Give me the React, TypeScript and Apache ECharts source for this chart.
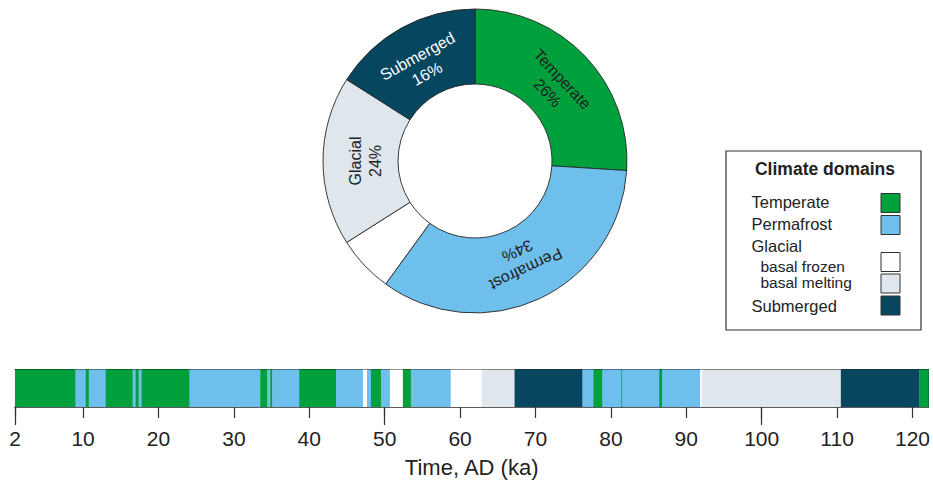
import React, { useEffect, useRef } from 'react';
import * as echarts from 'echarts';

const FONT = '"Liberation Sans", Arial, Helvetica, sans-serif';
const TEXT = '#222222';
const EDGE = '#262626';

// Climate domains: 0 Temperate, 1 Permafrost, 2 Glacial basal frozen, 3 Glacial basal melting, 4 Submerged
const DOMAIN_NAMES = ['Temperate', 'Permafrost', 'basal frozen', 'basal melting', 'Submerged'];
const DOMAIN_COLORS = ['#00a03c', '#6ebfeb', '#ffffff', '#dfe6ec', '#06465f'];

// Pie shares (%)
const PIE_VALUES = [26, 34, 6, 18, 16];
const PIE_LABEL_NAMES = ['Temperate', 'Permafrost', '', 'Glacial', 'Submerged'];
const PIE_LABEL_PCT = [26, 34, null, 24, 16];

// Timeline (ka): segment boundaries and the domain of each segment
const SEG_BOUNDS = [
  0.97, 8.99, 10.36, 10.75, 13.0, 16.57, 16.97, 17.36, 17.76, 24.11, 33.5, 34.43, 34.82,
  35.09, 38.66, 43.55, 47.12, 47.65, 48.18, 49.5, 50.69, 52.41, 53.47, 58.76, 62.86,
  67.23, 76.22, 77.68, 78.87, 81.38, 81.51, 86.41, 86.8, 91.83, 92.09, 110.5, 120.88, 122.1,
];
const SEG_DOMAIN = [
  0, 1, 0, 1, 0, 1, 0, 1, 0, 1, 0, 1,
  0, 1, 0, 1, 2, 1, 0, 1, 2, 0, 1, 2,
  3, 4, 1, 0, 1, 0, 1, 0, 1, 2, 3, 4, 0,
];

const AXIS_MIN = 0.97;
const AXIS_MAX = 122.1;
const TICK_VALUES = [0.97, 10, 20, 30, 40, 50, 60, 70, 80, 90, 100, 110, 120];
const TICK_LABELS = ['2', '10', '20', '30', '40', '50', '60', '70', '80', '90', '100', '110', '120'];
const MAJOR_TICKS = [0.97, 50, 100];

export default function App() {
  const ref = useRef<HTMLDivElement>(null);

  useEffect(() => {
    if (!ref.current) return;
    const chart = echarts.init(ref.current, undefined, { renderer: 'svg' });

    const total = PIE_VALUES.reduce((a, b) => a + b, 0);
    let cum = 0;
    const pieData = PIE_VALUES.map((v, i) => {
      const mid = ((cum + v / 2) / total) * 360;
      cum += v;
      const name = PIE_LABEL_NAMES[i];
      const pct = PIE_LABEL_PCT[i];
      return {
        value: v,
        name: DOMAIN_NAMES[i],
        itemStyle: { color: DOMAIN_COLORS[i] },
        label: {
          show: !!name,
          formatter: name ? `{sp|}\n${name}\n${pct}%` : '',
          rotate: -mid,
          color: i === 4 ? '#ffffff' : TEXT,
        },
      };
    });

    const segData = SEG_DOMAIN.map((d, i) => [SEG_BOUNDS[i], SEG_BOUNDS[i + 1], d]);

    const legendX = 726;
    const legendY = 151;
    const rows: any[] = [
      { text: 'Temperate', y: 202, sw: 0, indent: 0, swy: 193.5, fs: 16.5 },
      { text: 'Permafrost', y: 224, sw: 1, indent: 0, swy: 215.5, fs: 16.5 },
      { text: 'Glacial', y: 245.5, sw: -1, indent: 0, swy: 0, fs: 16.5 },
      { text: 'basal frozen', y: 266.5, sw: 2, indent: 9, swy: 252.5, fs: 15.5 },
      { text: 'basal melting', y: 282, sw: 3, indent: 9, swy: 274, fs: 15.5 },
      { text: 'Submerged', y: 306, sw: 4, indent: 0, swy: 296, fs: 16.5 },
    ];
    const legendChildren: any[] = [
      {
        type: 'rect',
        shape: { x: legendX, y: legendY, width: 195, height: 179 },
        style: { fill: '#ffffff', stroke: '#333333', lineWidth: 1.2 },
      },
      {
        type: 'text',
        x: 825,
        y: 168.5,
        style: {
          text: 'Climate domains',
          font: `bold 17.5px ${FONT}`,
          fill: TEXT,
          align: 'center',
          verticalAlign: 'middle',
        },
      },
    ];
    rows.forEach((r) => {
      legendChildren.push({
        type: 'text',
        x: 751.5 + r.indent,
        y: r.y,
        style: {
          text: r.text,
          font: `${r.fs}px ${FONT}`,
          fill: TEXT,
          align: 'left',
          verticalAlign: 'middle',
        },
      });
      if (r.sw >= 0) {
        legendChildren.push({
          type: 'rect',
          shape: { x: 881, y: r.swy, width: 19, height: 19 },
          style: { fill: DOMAIN_COLORS[r.sw], stroke: '#333333', lineWidth: 1 },
        });
      }
    });

    const labelFor = (v: number) => {
      let best = 0;
      TICK_VALUES.forEach((t, i) => {
        if (Math.abs(t - v) < Math.abs(TICK_VALUES[best] - v)) best = i;
      });
      return TICK_LABELS[best];
    };

    chart.setOption({
      animation: false,
      backgroundColor: '#ffffff',
      textStyle: { fontFamily: FONT },
      grid: { left: 15, right: 2, top: 369.5, height: 37.5 },
      xAxis: [
        {
          type: 'value',
          min: AXIS_MIN,
          max: AXIS_MAX,
          position: 'bottom',
          axisLine: { show: true, lineStyle: { color: EDGE, width: 1.5 } },
          axisTick: {
            show: true,
            customValues: TICK_VALUES,
            length: 11,
            lineStyle: { color: '#333333', width: 1.2 },
          },
          axisLabel: {
            show: true,
            customValues: TICK_VALUES,
            formatter: (v: number) => labelFor(v),
            margin: 21,
            fontSize: 21,
            color: TEXT,
            fontFamily: FONT,
          },
          splitLine: { show: false },
          name: 'Time, AD (ka)',
          nameLocation: 'middle',
          nameGap: 49,
          nameTextStyle: { fontSize: 22, color: TEXT, fontFamily: FONT },
        },
        {
          type: 'value',
          min: AXIS_MIN,
          max: AXIS_MAX,
          position: 'bottom',
          axisLine: { show: false },
          axisTick: {
            show: true,
            customValues: MAJOR_TICKS,
            length: 18,
            lineStyle: { color: '#333333', width: 1.2 },
          },
          axisLabel: { show: false },
          splitLine: { show: false },
        },
        {
          type: 'value',
          min: AXIS_MIN,
          max: AXIS_MAX,
          position: 'top',
          axisLine: { show: true, lineStyle: { color: EDGE, width: 1.2 } },
          axisTick: { show: false },
          axisLabel: { show: false },
          splitLine: { show: false },
        },
      ],
      yAxis: [
        {
          type: 'value',
          min: 0,
          max: 1,
          position: 'left',
          axisLine: { show: true, lineStyle: { color: EDGE, width: 1 } },
          axisTick: { show: false },
          axisLabel: { show: false },
          splitLine: { show: false },
        },
        {
          type: 'value',
          min: 0,
          max: 1,
          position: 'right',
          axisLine: { show: true, lineStyle: { color: EDGE, width: 1 } },
          axisTick: { show: false },
          axisLabel: { show: false },
          splitLine: { show: false },
        },
      ],
      series: [
        {
          type: 'custom',
          xAxisIndex: 0,
          yAxisIndex: 0,
          encode: { x: [0, 1] },
          data: segData,
          z: 1,
          renderItem: (params: any, api: any) => {
            const p0 = api.coord([api.value(0), 0]);
            const p1 = api.coord([api.value(1), 1]);
            return {
              type: 'rect',
              shape: { x: p0[0], y: p1[1], width: p1[0] - p0[0] + 0.4, height: p0[1] - p1[1] },
              style: { fill: DOMAIN_COLORS[api.value(2)] },
            };
          },
        },
        {
          type: 'pie',
          center: [475, 161],
          radius: [77, 152],
          startAngle: 90,
          clockwise: true,
          avoidLabelOverlap: false,
          itemStyle: { borderColor: EDGE, borderWidth: 0.9 },
          label: {
            position: 'inside',
            fontSize: 16,
            lineHeight: 20,
            fontFamily: FONT,
            align: 'center',
            rich: { sp: { height: 16, lineHeight: 16, fontSize: 1 } },
          },
          labelLine: { show: false },
          emphasis: { disabled: true },
          data: pieData,
        },
      ],
      graphic: [{ type: 'group', children: legendChildren }],
    });

    return () => chart.dispose();
  }, []);

  return (
    <div
      ref={ref}
      style={{ position: 'fixed', left: 0, top: 0, width: 933, height: 481, background: '#fff' }}
    />
  );
}
